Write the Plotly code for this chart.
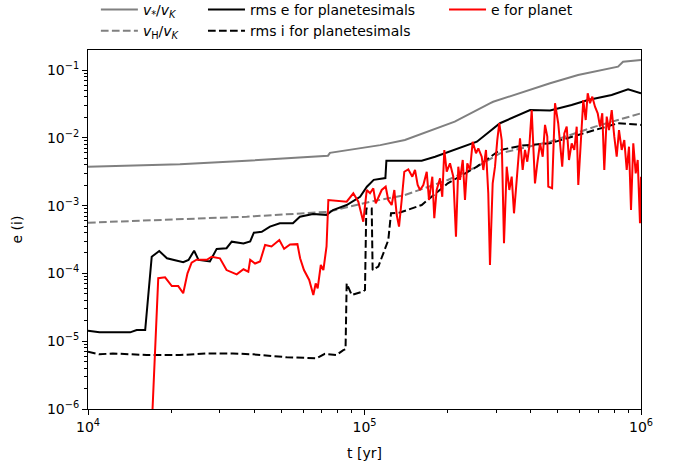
import plotly.graph_objects as go

# ---------------- data ----------------
t_vstar = [1e4, 2.15e4, 3.75e4, 7.38e4, 7.5e4, 1.14e5, 1.40e5, 1.68e5, 2.12e5, 2.84e5, 2.92e5,
           4.69e5, 5.92e5, 8.26e5, 8.61e5, 1e6]
e_vstar = [3.75e-3, 4.06e-3, 4.59e-3, 5.45e-3, 6.0e-3, 7.8e-3, 9.3e-3, 1.23e-2, 1.73e-2, 3.23e-2, 3.4e-2,
           6.37e-2, 8.43e-2, 0.112, 0.1325, 0.140]

t_vH = [1e4, 3.75e4, 7.38e4, 1.05e5, 1.40e5, 2.0e5, 2.55e5, 3.09e5, 4.69e5, 6.82e5, 1e6]
e_vH = [5.6e-4, 6.86e-4, 8.1e-4, 1.14e-3, 1.43e-3, 2.39e-3, 3.75e-3, 5.9e-3, 8.75e-3, 1.46e-2, 2.3e-2]

t_rms_e = [1e4, 1.10e4, 1.42e4, 1.50e4, 1.61e4, 1.70e4, 1.81e4, 1.93e4, 2.21e4, 2.31e4, 2.42e4, 2.51e4,
           2.76e4, 2.92e4, 3.17e4, 3.31e4, 3.65e4, 3.86e4, 3.98e4, 4.25e4, 4.55e4, 4.94e4, 5.51e4,
           5.84e4, 6.51e4, 7.29e4, 7.69e4, 8.62e4, 9.64e4, 1.02e5, 1.08e5, 1.14e5, 1.19e5, 1.20e5,
           1.61e5, 1.80e5, 2.12e5, 2.55e5, 3.09e5, 3.97e5, 4.69e5, 5.61e5, 6.43e5, 7.83e5, 8.98e5, 1e6]
e_rms_e = [1.43e-5, 1.35e-5, 1.35e-5, 1.46e-5, 1.46e-5, 1.76e-4, 2.14e-4, 1.67e-4, 1.46e-4, 1.58e-4,
           2.16e-4, 1.58e-4, 1.50e-4, 2.30e-4, 2.35e-4, 2.94e-4, 2.76e-4, 2.97e-4, 3.98e-4, 4.1e-4,
           4.9e-4, 5.5e-4, 5.5e-4, 6.85e-4, 7.5e-4, 7.3e-4, 8.6e-4, 1.02e-3, 1.35e-3, 1.9e-3, 2.4e-3,
           2.5e-3, 2.55e-3, 4.6e-3, 4.6e-3, 5.26e-3, 6.6e-3, 8.75e-3, 1.64e-2, 2.57e-2, 2.53e-2,
           3.05e-2, 3.61e-2, 4.28e-2, 5.19e-2, 4.53e-2]

t_rms_i = [1e4, 1.10e4, 1.23e4, 1.63e4, 2.15e4, 2.69e4, 3.34e4, 3.95e4, 5.23e4, 6.71e4, 7.19e4, 7.92e4,
           8.38e4, 8.54e4, 8.62e4, 8.99e4, 9.88e4, 1.004e5, 1.015e5, 1.062e5, 1.07e5, 1.122e5, 1.17e5,
           1.219e5, 1.247e5, 1.344e5, 1.61e5, 2.0e5, 2.55e5, 3.09e5, 3.72e5, 4.69e5, 5.92e5, 6.82e5,
           8.26e5, 1e6]
e_rms_i = [7.0e-6, 6.4e-6, 6.6e-6, 6.25e-6, 6.25e-6, 6.6e-6, 6.6e-6, 6.4e-6, 5.8e-6, 5.6e-6, 6.5e-6,
           6.25e-6, 7.4e-6, 7.6e-6, 7.1e-5, 4.8e-5, 5.4e-5, 5.7e-5, 9.1e-4, 9.1e-4, 1.12e-4, 1.26e-4,
           1.98e-4, 3.1e-4, 7.7e-4, 7.9e-4, 1.02e-3, 2.13e-3, 3.75e-3, 6.6e-3, 7.7e-3, 8.3e-3, 1.1e-2,
           1.3e-2, 1.64e-2, 1.55e-2]

t_planet = [1.67e4, 1.795e4, 1.90e4, 2.01e4, 2.12e4, 2.21e4, 2.29e4, 2.37e4, 2.47e4, 2.69e4, 2.80e4,
            3.0e4, 3.17e4, 3.45e4, 3.65e4, 3.80e4, 3.86e4, 4.02e4, 4.19e4, 4.37e4, 4.61e4, 4.92e4,
            5.12e4, 5.38e4, 5.72e4, 5.85e4, 6.04e4, 6.31e4, 6.53e4, 6.66e4, 6.77e4, 6.95e4, 7.10e4,
            7.29e4, 7.40e4, 7.71e4, 8.62e4, 9.11e4, 9.50e4, 9.90e4,
            1.019e5, 1.047e5, 1.076e5, 1.098e5, 1.122e5, 1.154e5, 1.193e5, 1.219e5, 1.254e5, 1.282e5,
            1.308e5, 1.333e5, 1.363e5, 1.393e5, 1.440e5, 1.489e5, 1.523e5, 1.557e5, 1.588e5, 1.632e5,
            1.679e5, 1.711e5, 1.759e5, 1.788e5, 1.824e5, 1.876e5, 1.911e5, 1.944e5, 1.983e5, 2.038e5,
            2.095e5, 2.142e5, 2.184e5, 2.215e5, 2.266e5, 2.309e5, 2.354e5, 2.407e5, 2.462e5, 2.531e5,
            2.580e5, 2.654e5, 2.690e5, 2.750e5, 2.803e5, 2.843e5, 2.908e5, 2.965e5, 3.022e5, 3.072e5,
            3.135e5, 3.195e5, 3.268e5, 3.340e5, 3.407e5, 3.473e5, 3.552e5, 3.651e5, 3.733e5, 3.806e5,
            3.879e5, 3.945e5, 4.024e5, 4.079e5, 4.136e5, 4.217e5, 4.313e5, 4.411e5, 4.496e5, 4.583e5,
            4.62e5, 4.769e5, 4.887e5, 5.018e5, 5.115e5, 5.188e5, 5.279e5, 5.386e5, 5.490e5, 5.615e5,
            5.738e5, 5.854e5, 5.932e5, 6.067e5, 6.184e5, 6.310e5, 6.416e5, 6.539e5, 6.667e5, 6.817e5,
            6.973e5, 7.108e5, 7.244e5, 7.366e5, 7.516e5, 7.661e5, 7.836e5, 8.006e5, 8.168e5, 8.326e5,
            8.516e5, 8.702e5, 8.878e5, 9.049e5, 9.201e5, 9.378e5, 9.568e5, 9.730e5, 9.917e5, 1e6]
e_planet = [1e-7, 8.5e-5, 8.75e-5, 6.5e-5, 6.5e-5, 5.1e-5, 1.0e-4, 1.44e-4, 1.59e-4, 1.59e-4, 1.76e-4,
            1.67e-4, 1.12e-4, 9.7e-5, 1.15e-4, 1.06e-4, 1.59e-4, 1.4e-4, 1.5e-4, 2.62e-4, 2.5e-4, 3.1e-4,
            2.3e-4, 2.67e-4, 2.7e-4, 1.67e-4, 1.12e-4, 8.0e-5, 4.8e-5, 7.1e-5, 6.0e-5, 1.33e-4, 1.12e-4,
            2.5e-4, 1.21e-3, 1.19e-3, 1.14e-3, 1.52e-3, 1.14e-3, 5.8e-4,
            1.70e-3, 1.52e-3, 1.80e-3, 1.08e-3, 1.35e-3, 1.70e-3, 1.90e-3, 1.21e-3, 1.02e-3, 1.70e-3,
            7.26e-4, 4.89e-4, 1.21e-3, 3.16e-3, 3.43e-3, 2.67e-3, 3.35e-3, 2.01e-3, 1.70e-3, 2.01e-3,
            3.16e-3, 1.21e-3, 2.67e-3, 6.5e-4, 1.70e-3, 2.53e-3, 1.35e-3, 6.61e-3, 3.16e-3, 4.21e-3,
            2.67e-3, 3.48e-4, 3.75e-3, 2.39e-3, 4.71e-3, 1.21e-3, 4.21e-3, 3.35e-3, 8.75e-3, 5.90e-3,
            7.00e-3, 5.26e-3, 3.35e-3, 6.61e-3, 1.52e-3, 1.33e-4, 2.13e-3, 3.75e-3, 9.29e-3, 1.64e-2,
            9.29e-3, 2.78e-4, 3.75e-3, 1.70e-3, 2.67e-3, 7.7e-4, 2.39e-3, 9.84e-3, 3.35e-3, 6.61e-3,
            4.44e-3, 7.40e-3, 2.57e-2, 5.90e-3, 2.13e-3, 4.21e-3, 8.30e-3, 5.26e-3, 1.55e-2, 1.04e-2,
            1.90e-3, 1.80e-3, 3.23e-2, 1.64e-2, 7.40e-3, 3.75e-3, 1.16e-2, 1.46e-2, 4.71e-3, 8.30e-3,
            6.61e-3, 1.46e-2, 2.01e-3, 1.04e-2, 3.61e-2, 1.83e-2, 4.53e-2, 3.23e-2, 4.04e-2, 2.88e-2,
            2.30e-2, 1.46e-2, 2.30e-2, 3.35e-3, 2.05e-2, 1.30e-2, 2.57e-2, 1.04e-2, 5.26e-3, 1.30e-2,
            6.61e-3, 9.29e-3, 3.35e-3, 7.40e-3, 8.6e-4, 8.30e-3, 2.99e-3, 4.71e-3, 5.48e-4, 2.67e-3]

x_tickvals = [1e4, 1e5, 1e6]
x_ticktext = ["10<sup>4</sup>", "10<sup>5</sup>", "10<sup>6</sup>"]
y_tickvals = [1e-6, 1e-5, 1e-4, 1e-3, 1e-2, 1e-1]
y_ticktext = ["10<sup>\u22126</sup>", "10<sup>\u22125</sup>", "10<sup>\u22124</sup>",
              "10<sup>\u22123</sup>", "10<sup>\u22122</sup>", "10<sup>\u22121</sup>"]

names = ["<i>v</i><sub>*</sub>/<i>v</i><sub><i>K</i></sub>",
         "<i>v</i><sub>H</sub>/<i>v</i><sub><i>K</i></sub>",
         "rms e for planetesimals",
         "rms i for planetesimals",
         "e for planet"]
x_title = "t [yr]"
y_title = "e (i)"

# ---------------- figure ----------------
FONT = "DejaVu Sans"
GRAY = "#808080"
DASH = "7.7px,3.3px"

fig = go.Figure()
fig.add_trace(go.Scatter(x=t_vstar, y=e_vstar, mode="lines", name=names[0], legendgroup="g0",
                         line=dict(color=GRAY, width=2), legend="legend", legendrank=1))
fig.add_trace(go.Scatter(x=t_vH, y=e_vH, mode="lines", name=names[1], legendgroup="g1",
                         line=dict(color=GRAY, width=2, dash=DASH), legend="legend", legendrank=2))
fig.add_trace(go.Scatter(x=t_rms_e, y=e_rms_e, mode="lines", name=names[2], legendgroup="g2",
                         line=dict(color="black", width=2), legend="legend2", legendrank=1))
fig.add_trace(go.Scatter(x=t_rms_i, y=e_rms_i, mode="lines", name=names[3], legendgroup="g3",
                         line=dict(color="black", width=2, dash=DASH), legend="legend2", legendrank=2))
fig.add_trace(go.Scatter(x=t_planet, y=e_planet, mode="lines", name=names[4], legendgroup="g4",
                         line=dict(color="red", width=2), legend="legend3"))

axis_common = dict(
    type="log", showgrid=False, zeroline=False, showline=True, mirror=True,
    linecolor="black", linewidth=1, ticks="outside", ticklen=5, tickwidth=1,
    tickcolor="black", tickmode="array",
    tickfont=dict(family=FONT, size=14, color="black"),
    minor=dict(ticks="outside", ticklen=3, tickwidth=0.8, tickcolor="black", dtick="D1", showgrid=False),
)

leg_common = dict(
    orientation="v", bgcolor="rgba(0,0,0,0)", borderwidth=0,
    font=dict(family=FONT, size=14, color="black"),
    xref="container", yref="paper", xanchor="left", yanchor="top",
    tracegroupgap=0, itemwidth=37,
)

fig.update_layout(
    width=680, height=468,
    margin=dict(l=88, r=39, t=50, b=59, autoexpand=False),
    paper_bgcolor="white", plot_bgcolor="white",
    font=dict(family=FONT, size=14, color="black"),
    xaxis=dict(axis_common, range=[4, 6], tickvals=x_tickvals, ticktext=x_ticktext),
    yaxis=dict(axis_common, range=[-6, -0.705], tickvals=y_tickvals, ticktext=y_ticktext),
    legend=dict(leg_common, x=0.141, y=1.156),
    legend2=dict(leg_common, x=0.2985, y=1.156),
    legend3=dict(leg_common, x=0.653, y=1.156),
    showlegend=True,
    annotations=[
        dict(text=x_title, xref="paper", yref="paper", x=0.5, y=-0.1226,
             xanchor="center", yanchor="middle", showarrow=False,
             font=dict(family=FONT, size=14, color="black")),
        dict(text=y_title, xref="paper", yref="paper", x=-0.1284, y=0.5, textangle=-90,
             xanchor="center", yanchor="middle", showarrow=False,
             font=dict(family=FONT, size=14, color="black")),
    ],
)

fig.write_html("out.html", config={"displayModeBar": False},
               post_script="document.body.style.margin='0px';")
